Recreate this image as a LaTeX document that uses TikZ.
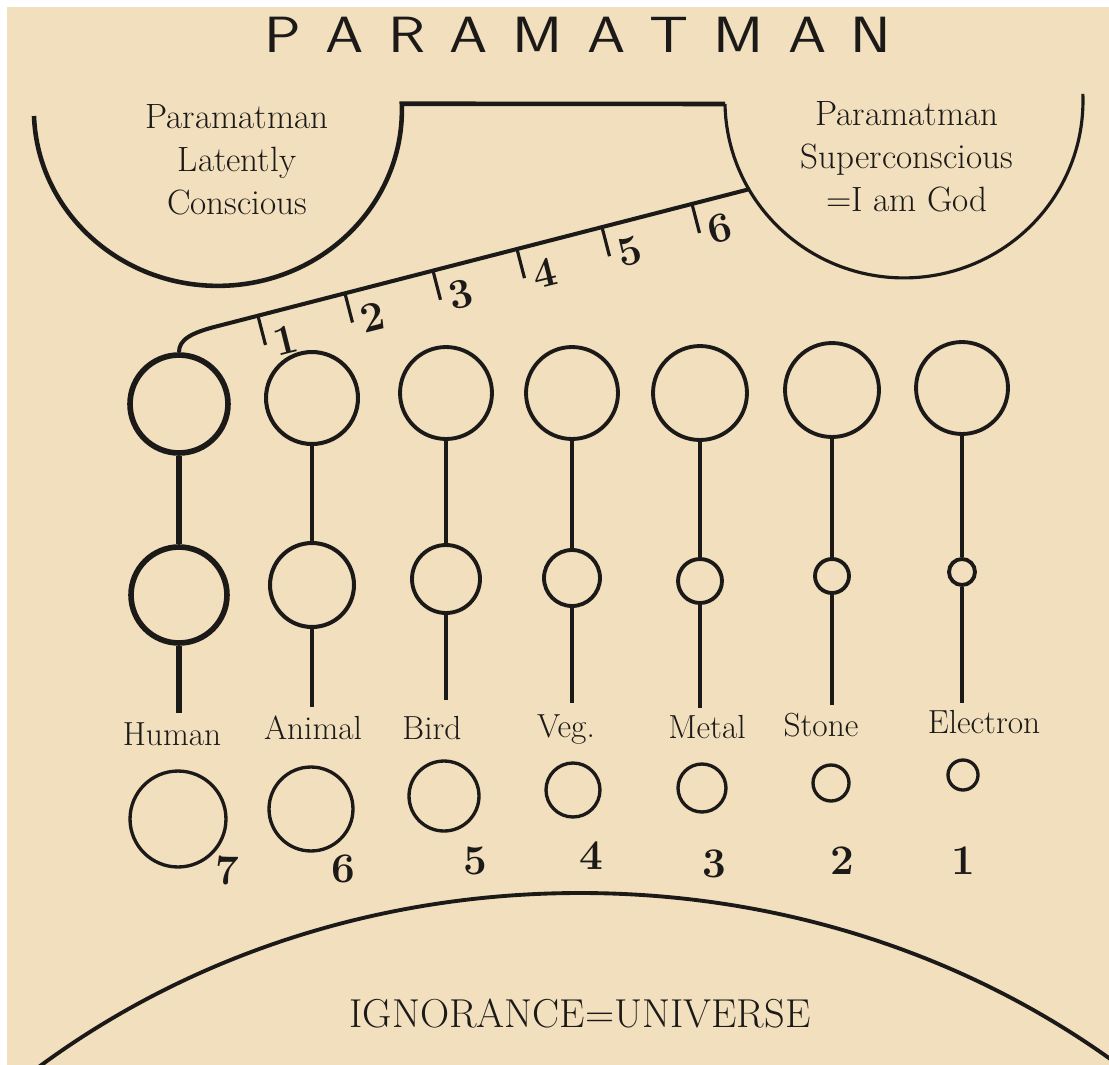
\documentclass[tikz,border=0pt]{standalone}
\usepackage{fontspec}
\usepackage{graphicx}
\usetikzlibrary{calc}
\definecolor{paper}{RGB}{241,223,189}
\definecolor{ink}{RGB}{28,26,24}
\newcommand{\lsp}{\kern11.6pt}
\begin{document}
\begin{tikzpicture}[x=0.02cm,y=-0.02cm,
  ring/.style={circle,draw=ink,inner sep=0pt,minimum size=#1*0.04cm,line width=2.2pt},
  lowring/.style={ring=#1,line width=1.9pt},
  stemline/.style={draw=ink,line width=#1},
  tickline/.style={draw=ink,line width=1.8pt},
  colname/.style={text=ink,anchor=base,inner sep=0pt,font=\fontsize{19}{22}\selectfont},
  num/.style={text=ink,inner sep=0pt,font=\fontsize{24}{26}\selectfont\bfseries},
  bowltext/.style={text=ink,align=center,inner sep=0pt,font=\fontsize{20}{24.5}\selectfont},
]
\useasboundingbox (0,0) rectangle (1109,1065);
\fill[white] (0,0) rectangle (1109,1065);
\fill[paper] (7,7) rectangle (1109,1065);

% title
\node[text=ink,anchor=base,inner sep=0pt,font=\sffamily\fontsize{29}{30}\selectfont] (title) at (578,52)
  {\scalebox{1.2}[1]{P\lsp A\lsp R\lsp A\lsp M\lsp A\lsp T\lsp M\lsp A\lsp N}};

% bowls
\coordinate (lbL) at (34,116);
\coordinate (lbR) at (402,104);
\coordinate (rbL) at (725,104);
\draw[draw=ink,line width=2.6pt,line join=miter] (lbL) arc[start angle=178,end angle=-2,x radius=184,y radius=176] -- (rbL);
\draw[draw=ink,line width=1.8pt] (rbL) arc[start angle=179,end angle=-2.3,x radius=179,y radius=177];

\node[bowltext] (latent) at (237,160) {Paramatman\\Latently\\Conscious};
\node[bowltext] (super) at (907,157) {Paramatman\\Superconscious\\=I am God};

% columns
\foreach \n/\ax/\ay/\ar/\by/\br/\ey/\lx/\ly/\txt/\lw in {
  Human/179/404/49/595/48/713/172/745/Human/3.2pt,
  Animal/312/398/46/585/42/707/313/739/Animal/2.3pt,
  Bird/446/393/46/579/34/700/432/739/Bird/2.2pt,
  Veg/572/393/46/578/28/703/566/737/Veg./2.2pt,
  Metal/700/393/47/581/22/708/707/738/Metal/2.2pt,
  Stone/832/390/47/576/17/705/821/736/Stone/2.2pt,
  Electron/962/388/46/572/13/703/984/733/Electron/2.2pt}{
  \node[ring=\ar,line width=\lw] (\n-a) at (\ax,\ay) {};
  \node[ring=\br,line width=\lw] (\n-b) at (\ax,\by) {};
  \coordinate (\n-e) at (\ax,\ey);
  \draw[stemline=\lw] (\n-a) -- (\n-b);
  \draw[stemline=\lw] (\n-b) -- (\n-e);
  \node[colname] (\n-l) at (\lx,\ly) {\txt};
}

% diagonal scale
\coordinate (rbHit) at (750,189);
\coordinate (dBend) at (218,326);
\draw[draw=ink,line width=2.3pt] (rbHit) -- (dBend) .. controls (190,333) and (179,340) .. (Human-a.north);
\foreach \i/\tx in {1/258,2/345,3/433,4/517,5/602,6/692}{
  \coordinate (t\i) at (\tx,{189+(750-\tx)*0.258});
  \draw[tickline] (t\i) -- ++(7.5,29);
  \node[num,rotate=14] (n\i) at ($(t\i)+(28,24)$) {\i};
}

% bottom row
\foreach \k/\cx/\cy/\r/\nx/\ny in {7/178/819/48/227/870, 6/311/809/42/343/869,
  5/444/796/35/475/861, 4/573/790/27/591/856, 3/702/788/24/714/864,
  2/831/783/18/842/861, 1/963/775/15/963/861}{
  \node[lowring=\r] (c\k) at (\cx,\cy) {};
  \node[num] (m\k) at (\nx,\ny) {\k};
}

% universe
\begin{scope}
  \clip (7,7) rectangle (1109,1065);
  \draw[draw=ink,line width=2.2pt] (580,1653) ellipse[x radius=850,y radius=760];
\end{scope}
\node[text=ink,anchor=base,inner sep=0pt,font=\fontsize{23}{26}\selectfont] (universe) at (580,1027) {IGNORANCE=UNIVERSE};
\end{tikzpicture}
\end{document}
